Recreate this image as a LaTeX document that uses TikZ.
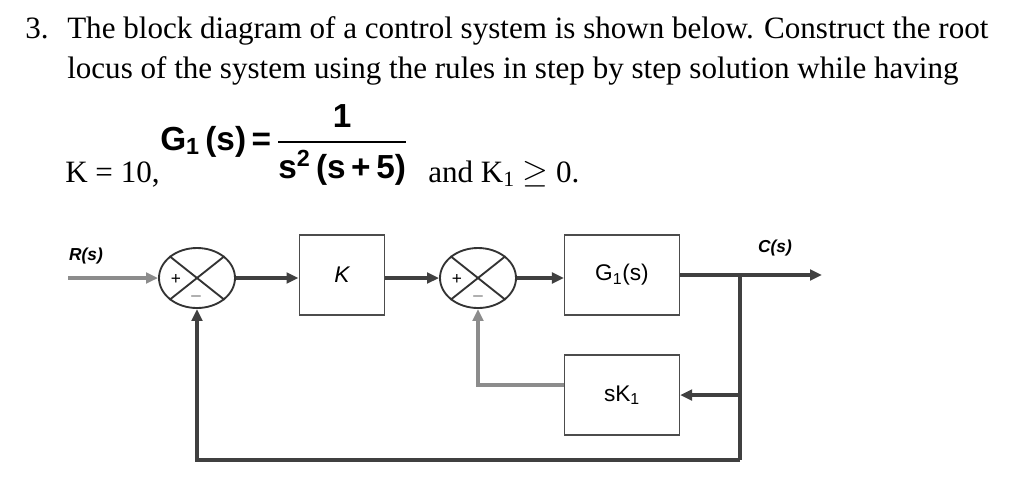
\documentclass[tikz,border=0pt]{standalone}
\usepackage{amsmath}
\usepackage{fontspec}
\setmainfont{Liberation Serif}
\newfontfamily\sansf{Liberation Sans}
\usetikzlibrary{arrows.meta,shapes.geometric}
\begin{document}
\begin{tikzpicture}[x=0.75pt,y=-0.75pt,
  sig/.style={line width=2.6pt,draw=black!75,-{Triangle[length=9pt,width=8pt]}},
  gsig/.style={line width=2.6pt,draw=black!45},
  blk/.style={draw=black!70,line width=1.2pt,minimum width=86pt,minimum height=60pt,font=\sansf\fontsize{17}{17}\selectfont},
  sum/.style={ellipse,draw=black!80,line width=1.4pt,minimum width=57pt,minimum height=45pt},
  txt/.style={anchor=base west,inner sep=0pt,font=\fontsize{23.3}{26}\selectfont}]
\useasboundingbox (0,0) rectangle (1024,480);
\node[txt] (n3) at (25,38) {3.};
\node[txt] (l1) at (67,38) {The block diagram of a control system is shown below. Construct the root};
\node[txt] (l2) at (67,78) {locus of the system using the rules in step by step solution while having};
\node[txt] (kk) at (65,182) {K = 10,};
\node[anchor=west,inner sep=0pt,font=\sansf\bfseries\fontsize{25}{28}\selectfont] (g) at (160,145)
  {G\textsubscript{1}\,(s)\,=\,$\genfrac{}{}{1.8pt}{0}{\hbox{1}}{\hbox{s\textsuperscript{2}\,(s\,+\,5)}}$};
\node[txt] (kk1) at (428,182) {and K\textsubscript{1} $\geq$ 0.};
% diagram
\node[sum] (s1) at (197,278) {};
\node[sum] (s2) at (478,278) {};
\draw[black!80,line width=1.4pt] (s1.north west)--(s1.south east) (s1.north east)--(s1.south west);
\draw[black!80,line width=1.4pt] (s2.north west)--(s2.south east) (s2.north east)--(s2.south west);
\node[font=\sansf\fontsize{13}{13}\selectfont] (p1) at (176,279) {+};
\node[font=\sansf\fontsize{13}{13}\selectfont] (m1) at (196,296) {$-$};
\node[font=\sansf\fontsize{13}{13}\selectfont] (p2) at (457,279) {+};
\node[font=\sansf\fontsize{13}{13}\selectfont] (m2) at (478,296) {$-$};
\node[blk,minimum width=64pt] (k) at (342,275) {\itshape K};
\node[blk] (g1) at (622,275) {G\textsubscript{1}(s)};
\node[blk] (sk) at (622,395) {sK\textsubscript{1}};
\node[font=\sansf\bfseries\itshape\fontsize{13}{13}\selectfont] (rl) at (86,256) {R(s)};
\node[font=\sansf\bfseries\itshape\fontsize{13}{13}\selectfont] (cl) at (775,248) {C(s)};
\coordinate (in) at (68,278);
\coordinate (br) at (740,275);
\coordinate (out) at (822,275);
\coordinate (bot) at (740,460);
\coordinate (fb) at (478,385);
\draw[gsig,-{Triangle[length=9pt,width=8pt]}] (in) -- (s1.west);
\draw[sig] (s1.east) -- (k.west|-s1);
\draw[sig] (k.east|-s2) -- (s2.west);
\draw[sig] (s2.east) -- (g1.west|-s2);
\draw[sig] (g1.east) -- (out);
\draw[sig] (br) |- (sk.east);
\draw[line width=2.6pt,draw=black!75] (br) -- (bot);
\draw[sig] (bot) -| (s1.south);
\draw[gsig,-{Triangle[length=9pt,width=8pt]}] (sk.west|-fb) -- (fb) -- (s2.south);
\end{tikzpicture}
\end{document}
